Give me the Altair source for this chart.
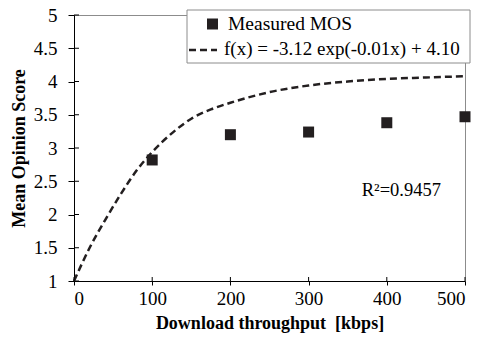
import altair as alt
import pandas as pd

# Measured data
throughput = [100, 200, 300, 400, 500]
mos = [2.82, 3.20, 3.24, 3.38, 3.47]

# Fitted curve
curve_x = [0, 20, 40, 60, 80, 100, 125, 150, 175, 200, 250, 300, 350, 400, 450, 500]
curve_y = [1.00, 1.50, 1.92, 2.31, 2.66, 2.94, 3.22, 3.44, 3.58, 3.68, 3.84, 3.94, 4.00, 4.04, 4.06, 4.08]

x_ticks = [0, 100, 200, 300, 400, 500]
y_ticks = [1, 1.5, 2, 2.5, 3, 3.5, 4, 4.5, 5]

legend_labels = ["Measured MOS", "f(x) = -3.12 exp(-0.01x) + 4.10"]
r2_label = "R²=0.9457"
r2_pos = (368, 2.37)

FONT = "Liberation Serif"
INK = "#231f20"

pts = pd.DataFrame({"x": throughput, "y": mos})
crv = pd.DataFrame({"x": curve_x, "y": curve_y})
xt = pd.DataFrame({"x": x_ticks})
yt = pd.DataFrame({"y": y_ticks})

xs = alt.Scale(domain=[0, 500], nice=False)
ys = alt.Scale(domain=[1, 5], nice=False)

xaxis = alt.Axis(values=x_ticks, title="Download throughput\u00a0\u00a0[kbps]", tickSize=4,
                 labelPadding=4, titlePadding=6, format="d", labelOverlap=False,
                 labelFont=FONT, labelFontSize=19, titleFont=FONT, titleFontSize=18)
yaxis = alt.Axis(values=y_ticks, title="Mean Opinion Score", tickSize=6,
                 labelPadding=11, titlePadding=5, format="~g", labelOverlap=False,
                 labelFont=FONT, labelFontSize=19, titleFont=FONT, titleFontSize=18)

X = lambda: alt.X("x:Q", scale=xs, axis=xaxis)
Y = lambda: alt.Y("y:Q", scale=ys, axis=yaxis)

line = alt.Chart(crv).mark_line(
    color=INK, strokeDash=[7, 4], strokeWidth=2.5, interpolate="monotone"
).encode(x=X(), y=Y())

points = alt.Chart(pts).mark_point(
    shape="square", filled=True, size=121, color=INK, opacity=1
).encode(x=X(), y=Y())

inner_xt = alt.Chart(xt).mark_rule(color="black", strokeWidth=1).encode(
    x=X(), y=alt.value(266), y2=alt.value(262)
)
inner_yt = alt.Chart(yt).mark_rule(color="black", strokeWidth=1).encode(
    y=Y(), x=alt.value(0), x2=alt.value(5)
)

r2 = alt.Chart(pd.DataFrame({"x": [r2_pos[0]], "y": [r2_pos[1]], "t": [r2_label]})).mark_text(
    font=FONT, fontSize=18.5, align="left", baseline="middle", color="black"
).encode(x=X(), y=Y(), text="t:N")

# legend box
leg_box = alt.Chart(pd.DataFrame({"a": [0]})).mark_rect(
    fill="white", stroke="#8c8c8c", strokeWidth=1
).encode(x=alt.value(113), x2=alt.value(396), y=alt.value(-5), y2=alt.value(48))

leg_sq = alt.Chart(pd.DataFrame({"a": [0]})).mark_point(
    shape="square", filled=True, size=121, color=INK, opacity=1
).encode(x=alt.value(138.5), y=alt.value(9))

leg_ln = alt.Chart(pd.DataFrame({"a": [0]})).mark_rule(
    color=INK, strokeDash=[7, 4], strokeWidth=2.5
).encode(x=alt.value(115), x2=alt.value(143), y=alt.value(35))

leg_t1 = alt.Chart(pd.DataFrame({"t": [legend_labels[0]]})).mark_text(
    font=FONT, fontSize=19.5, align="left", baseline="middle", color="black"
).encode(x=alt.value(154), y=alt.value(9), text="t:N")

leg_t2 = alt.Chart(pd.DataFrame({"t": [legend_labels[1]]})).mark_text(
    font=FONT, fontSize=19, align="left", baseline="middle", color="black"
).encode(x=alt.value(150), y=alt.value(34), text="t:N")

chart = alt.layer(
    line, inner_xt, inner_yt, points, r2, leg_box, leg_sq, leg_ln, leg_t1, leg_t2
).properties(
    width=391, height=266,
    autosize=alt.AutoSizeParams(type="none"),
    padding={"left": 74, "top": 15, "right": 13, "bottom": 57},
    background="white",
).configure_view(
    stroke="#8c8c8c", strokeWidth=1
).configure_axis(
    grid=False, domainColor="black", tickColor="black", labelColor="black",
    titleColor="black", titleFontWeight="bold", domainWidth=1, tickWidth=1,
    labelFont=FONT, labelFontSize=19,
)

chart.save("out.html", embed_options={"renderer": "svg", "actions": False})
